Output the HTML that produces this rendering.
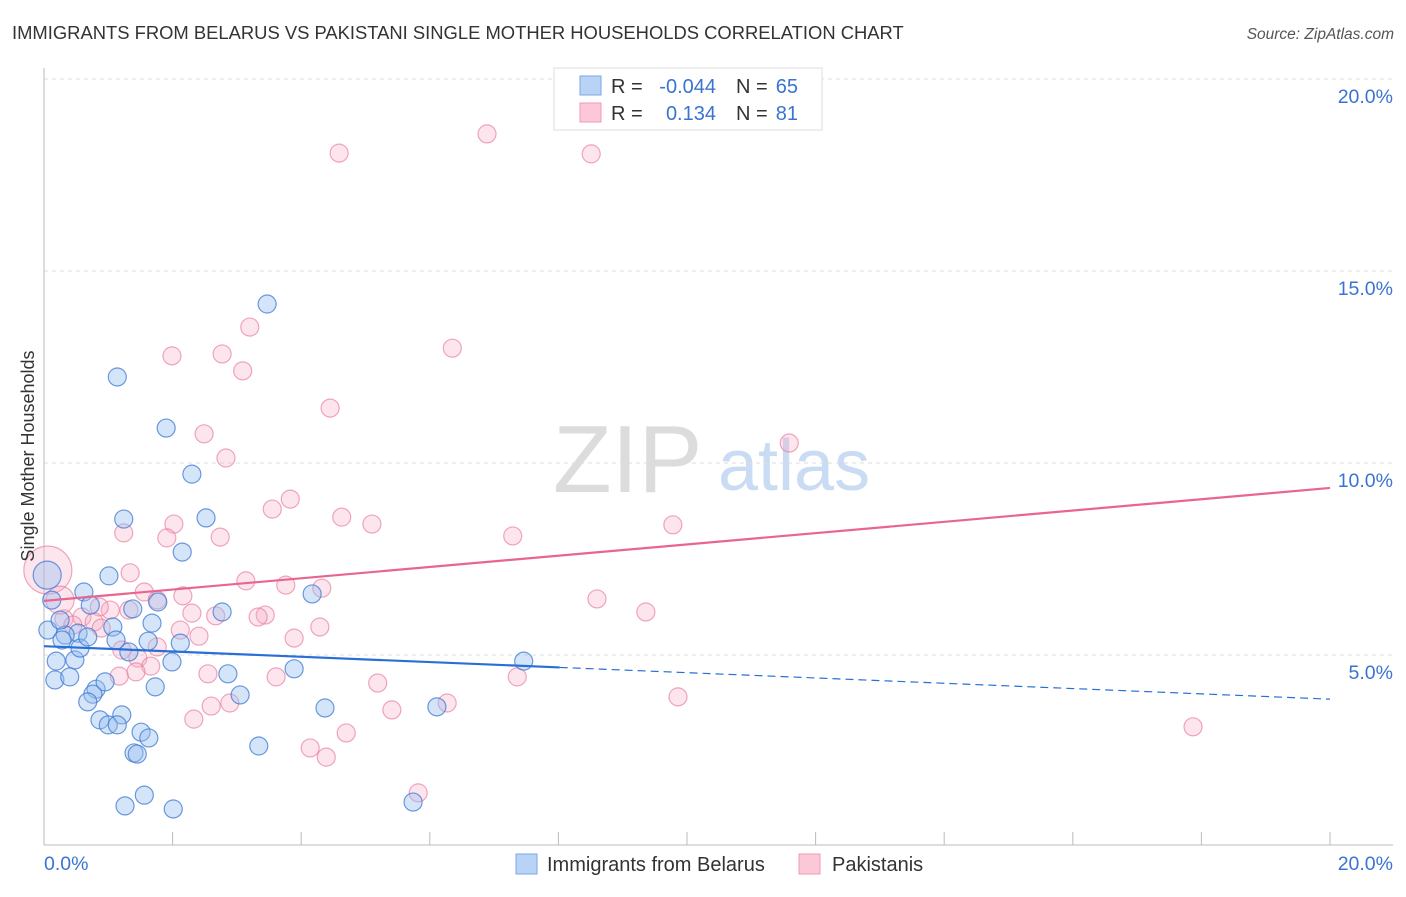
<!DOCTYPE html>
<html><head><meta charset="utf-8"><style>
body{margin:0;background:#fff;font-family:"Liberation Sans",sans-serif}
svg text{font-family:"Liberation Sans",sans-serif}
</style></head><body>
<svg id="chart" width="1406" height="892" viewBox="0 0 1406 892" xmlns="http://www.w3.org/2000/svg">
<text x="12" y="39" font-size="18.4" fill="#333">IMMIGRANTS FROM BELARUS VS PAKISTANI SINGLE MOTHER HOUSEHOLDS CORRELATION CHART</text>
<text x="1394" y="39" font-size="15.5" fill="#555" text-anchor="end" font-style="italic">Source: ZipAtlas.com</text>
<g>
<text x="553" y="492" font-size="96" fill="#dcdcdc" font-family="Liberation Serif,serif">ZIP</text>
<text x="718" y="490" font-size="72" fill="#c9dcf3">atlas</text>
</g>
<g id="grid"></g>
<g id="axes"></g>
<g id="marks"></g>
<g id="trends"></g>
<text transform="translate(34,456) rotate(-90)" font-size="18" fill="#333" text-anchor="middle">Single Mother Households</text>
<g>
<rect x="554" y="68" width="268" height="62" fill="#fff" stroke="#ddd"/>
<rect x="580" y="76" width="21" height="19" fill="#b8d3f5" stroke="#7aa8e6"/>
<rect x="580" y="103" width="21" height="19" fill="#fcc8d8" stroke="#ef9ab5"/>
<text x="611" y="93" font-size="20" fill="#333">R =</text>
<text x="716" y="93" font-size="20" fill="#3a74d0" text-anchor="end">-0.044</text>
<text x="736" y="93" font-size="20" fill="#333">N =</text>
<text x="798" y="93" font-size="20" fill="#3a74d0" text-anchor="end">65</text>
<text x="611" y="120" font-size="20" fill="#333">R =</text>
<text x="716" y="120" font-size="20" fill="#3a74d0" text-anchor="end">0.134</text>
<text x="736" y="120" font-size="20" fill="#333">N =</text>
<text x="798" y="120" font-size="20" fill="#3a74d0" text-anchor="end">81</text>
</g>
<g>
<rect x="516" y="854" width="21" height="20" fill="#b8d3f5" stroke="#7aa8e6"/>
<text x="547" y="871" font-size="20" fill="#333">Immigrants from Belarus</text>
<rect x="799" y="854" width="21" height="20" fill="#fcc8d8" stroke="#ef9ab5"/>
<text x="832" y="871" font-size="20" fill="#333">Pakistanis</text>
</g>
</svg>
<script>
const yTicks=[5,10,15,20];
const yTickLabels=["5.0%","10.0%","15.0%","20.0%"];
const xTickLabels=["0.0%","20.0%"];
const blueX=[3.47,1.14,1.90,2.30,1.24,2.52,2.15,1.01,0.62,4.17,1.77,2.77,1.38,0.72,0.12,1.68,1.07,0.53,0.33,0.06,2.12,1.62,1.32,1.99,0.19,0.48,0.17,0.40,0.56,0.81,0.76,0.95,3.05,2.86,3.89,1.73,0.68,1.21,0.87,1.00,1.14,1.51,1.63,1.40,1.45,4.37,6.11,3.34,1.26,1.56,2.01,5.74,7.46,0.05,0.25,0.28,0.68,1.12];
const blueY=[14.14,12.24,10.91,9.71,8.54,8.57,7.68,7.06,6.64,6.59,6.38,6.12,6.20,6.30,6.43,5.83,5.73,5.57,5.52,5.65,5.31,5.36,5.08,4.82,4.84,4.87,4.35,4.43,5.18,4.11,3.98,4.30,3.96,4.51,4.64,4.17,3.78,3.44,3.31,3.18,3.18,2.99,2.84,2.45,2.42,3.62,3.65,2.63,1.07,1.35,0.99,1.17,4.84,7.08,5.91,5.39,5.47,5.39];
const blueR=[9,9,9,9,9,9,9,9,9,9,9,9,9,9,9,9,9,9,9,9,9,9,9,9,9,9,9,9,9,9,9,9,9,9,9,9,9,9,9,9,9,9,9,9,9,9,9,9,9,9,9,9,9,14,9,9,9,9];
const pinkX=[6.89,4.59,8.51,3.20,1.99,2.77,6.35,3.09,4.45,2.49,11.59,2.83,3.83,3.55,4.63,5.10,2.02,1.24,1.91,2.74,7.29,9.78,1.34,3.14,3.76,4.32,1.56,2.16,1.76,1.03,1.32,0.86,8.60,9.36,3.44,3.33,2.67,2.30,0.59,0.31,0.78,0.89,0.45,4.29,2.12,2.41,3.89,1.76,1.21,1.46,1.66,1.43,2.55,1.17,3.61,5.19,7.36,9.86,6.27,2.60,2.89,5.41,2.33,4.70,4.14,4.39,17.87,5.82,0.06,0.25];
const pinkY=[18.57,18.07,18.05,13.54,12.79,12.84,12.99,12.40,11.43,10.76,10.52,10.13,9.06,8.80,8.59,8.41,8.41,8.18,8.05,8.07,8.10,8.39,7.14,6.93,6.82,6.74,6.64,6.54,6.43,6.17,6.17,6.25,6.46,6.12,6.04,5.99,6.02,6.09,5.99,5.94,5.86,5.70,5.78,5.73,5.65,5.49,5.44,5.21,5.13,4.92,4.71,4.56,4.51,4.45,4.43,4.27,4.43,3.91,3.75,3.67,3.75,3.57,3.33,2.97,2.58,2.34,3.13,1.41,7.21,6.43];
const pinkR=[9,9,9,9,9,9,9,9,9,9,9,9,9,9,9,9,9,9,9,9,9,9,9,9,9,9,9,9,9,9,9,9,9,9,9,9,9,9,9,9,9,9,9,9,9,9,9,9,9,9,9,9,9,9,9,9,9,9,9,9,9,9,9,9,9,9,9,9,24,14];
const blueTrend=[5.23,3.85]; const blueSolidEnd=8.02;
const pinkTrend=[6.41,9.35];
const NS="http://www.w3.org/2000/svg";
const X0=44,X1=1330,Y0=847,PXPER=38.4;
const sx=v=>X0+(v/20)*(X1-X0);
const sy=v=>Y0-v*PXPER;
function mk(t,a,p){const e=document.createElementNS(NS,t);for(const k in a)e.setAttribute(k,a[k]);p.appendChild(e);return e;}
const grid=document.getElementById('grid'),axes=document.getElementById('axes'),marks=document.getElementById('marks'),trends=document.getElementById('trends');
yTicks.forEach((t,i)=>{
 const l=mk('line',{x1:X0,x2:1393,y1:sy(t),y2:sy(t),stroke:'#ddd','stroke-dasharray':'4,4'},grid);
 
 
 const tx=mk('text',{x:1393,y:sy(t)+24,'font-size':19.5,fill:'#3a74d0','text-anchor':'end'},axes);
 tx.textContent=yTickLabels[i];
 
 
});
let ax=mk('line',{x1:X0,x2:X0,y1:68,y2:845,stroke:'#bbb'},axes);


ax=mk('line',{x1:X0,x2:1393,y1:845,y2:845,stroke:'#bbb'},axes);


for(let i=1;i<=10;i++){const t=mk('line',{x1:sx(i*2),x2:sx(i*2),y1:832,y2:845,stroke:'#bbb'},axes);
 
 }
let xl=mk('text',{x:44,y:870,'font-size':19.5,fill:'#3a74d0'},axes);xl.textContent=xTickLabels[0];


xl=mk('text',{x:1393,y:870,'font-size':19.5,fill:'#3a74d0','text-anchor':'end'},axes);xl.textContent=xTickLabels[1];


pinkX.forEach((v,i)=>{const c=mk('circle',{cx:sx(v),cy:sy(pinkY[i]),r:pinkR[i],fill:'rgba(248,170,195,0.3)',stroke:'rgba(232,120,155,0.65)','stroke-width':1.2},marks);
 
 });
blueX.forEach((v,i)=>{const c=mk('circle',{cx:sx(v),cy:sy(blueY[i]),r:blueR[i],fill:'rgba(150,190,240,0.4)',stroke:'rgba(60,120,210,0.75)','stroke-width':1.2},marks);
 
 });
const bAt=x=>blueTrend[0]+(blueTrend[1]-blueTrend[0])*x/20;
let tl=mk('line',{x1:sx(0),y1:sy(blueTrend[0]),x2:sx(blueSolidEnd),y2:sy(bAt(blueSolidEnd)),stroke:'#2a6fd6','stroke-width':2.2},trends);


tl=mk('line',{x1:sx(blueSolidEnd),y1:sy(bAt(blueSolidEnd)),x2:sx(20),y2:sy(blueTrend[1]),stroke:'#2a6fd6','stroke-width':1.2,'stroke-dasharray':'8,5'},trends);


tl=mk('line',{x1:sx(0),y1:sy(pinkTrend[0]),x2:sx(20),y2:sy(pinkTrend[1]),stroke:'#e8658f','stroke-width':2.2},trends);


</script>
</body></html>
